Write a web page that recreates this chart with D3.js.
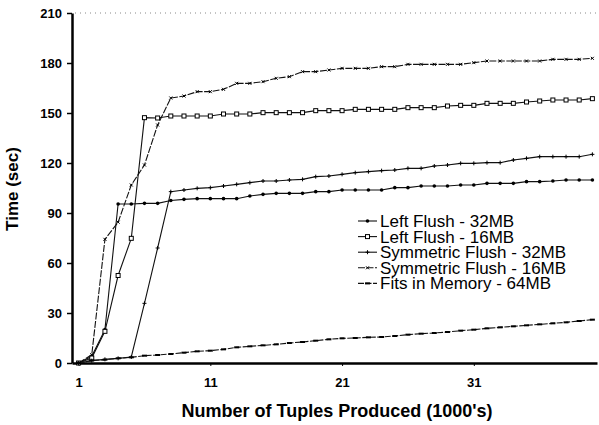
<!DOCTYPE html>
<html>
<head>
<meta charset="utf-8">
<script src="https://cdn.jsdelivr.net/npm/d3@7"></script>
<style>
  body { margin: 0; background: #fff; }
  text { font-family: "Liberation Sans", Arial, Helvetica, sans-serif; }
</style>
</head>
<body>
<div id="chart"></div>
<script>
// data, x = 1..40 (1000's of tuples)
var xs = d3.range(1, 41);

var leftFlush32 = [0, 4, 20, 95.4, 95.4, 95.8, 95.8, 97.5, 98.2, 98.6,
  98.6, 98.6, 98.6, 100.2, 101.2, 101.8, 101.8, 101.8, 102.8, 102.8,
  103.8, 103.8, 103.8, 103.8, 105.2, 105.2, 106.2, 106.2, 106.2, 106.8,
  106.8, 107.8, 107.8, 107.8, 108.8, 108.8, 109.2, 109.8, 109.8, 109.8];

var leftFlush16 = [0, 3, 19, 52.5, 74.8, 147.2, 147, 148.2, 148.2, 148.2,
  148.2, 149.4, 149.4, 149.4, 150.2, 150.2, 150.2, 150.2, 151.4, 151.4,
  151.4, 152.2, 152.2, 152.2, 152.2, 153.2, 153.2, 153.2, 154.2, 154.6,
  154.6, 155.8, 155.8, 155.8, 156.6, 157.2, 157.8, 157.8, 157.8, 158.6];

var symFlush32 = [0, 1.4, 2.2, 2.8, 3.6, 35.8, 69, 102.8, 103.8, 104.8,
  105.2, 106.2, 107.2, 108.2, 109.2, 109.2, 109.8, 110.2, 111.8, 112.2,
  113.2, 114.2, 114.8, 115.4, 115.8, 116.8, 116.8, 118.2, 118.8, 119.8,
  119.8, 120.2, 120.2, 121.8, 122.8, 123.8, 123.8, 123.8, 123.8, 125.2];

var symFlush16 = [0, 5, 74.2, 84.5, 106.8, 118.8, 142.8, 159, 160.2, 162.8,
  162.8, 164.2, 167.8, 167.8, 168.8, 170.8, 171.8, 174.8, 174.8, 175.8,
  176.8, 176.8, 176.8, 177.8, 177.8, 179.2, 179.2, 179.2, 179.2, 179.2,
  180.2, 181.2, 181.2, 181.2, 181.2, 181.2, 182.2, 182.2, 182.2, 182.8];

var fitsMem64 = [0, 1.5, 2, 2.8, 3.4, 4.4, 4.8, 5.4, 6.2, 7,
  7.4, 8.2, 9.4, 10, 10.6, 11.2, 12, 12.6, 13.4, 14.2,
  14.8, 15, 15.4, 15.6, 16.2, 17, 17.6, 18, 18.6, 19.4,
  20, 20.8, 21.4, 22, 22.6, 23.2, 23.8, 24.4, 25.2, 26];

var seriesNames = ["Left Flush - 32MB", "Left Flush - 16MB", "Symmetric Flush - 32MB",
  "Symmetric Flush - 16MB", "Fits in Memory - 64MB"];
var seriesValues = [leftFlush32, leftFlush16, symFlush32, symFlush16, fitsMem64];
var markerKinds = ["dot", "square", "plus", "star", "dash"];
var dashKinds = [null, null, null, "7,1.5", "6,1.5"];

var yTicks = [0, 30, 60, 90, 120, 150, 180, 210];
var xTicks = [1, 11, 21, 31];

// set the dimensions and margins of the graph
var margin = {top: 13, right: 2, bottom: 62, left: 72},
    width = 599 - margin.left - margin.right,
    height = 425 - margin.top - margin.bottom;

var svg = d3.select("#chart")
  .append("svg")
    .attr("width", width + margin.left + margin.right)
    .attr("height", height + margin.top + margin.bottom)
  .append("g")
    .attr("transform", "translate(" + margin.left + "," + margin.top + ")");

var x = d3.scaleLinear().domain([0.5, 40.35]).range([0, width]);
var y = d3.scaleLinear().domain([0, 210]).range([height, 0]);

// faint dotted line at the top
svg.append("line")
  .attr("x1", 3).attr("x2", width)
  .attr("y1", y(210)).attr("y2", y(210))
  .attr("stroke", "#888")
  .attr("stroke-width", 1)
  .attr("stroke-dasharray", "1,4");

// Y axis
var yAxis = svg.append("g")
  .call(d3.axisLeft(y).tickValues(yTicks).tickSize(5).tickPadding(5).tickSizeOuter(0));
yAxis.select(".domain").attr("stroke-width", 2.5).attr("stroke", "#000");
yAxis.selectAll(".tick line").attr("stroke-width", 1.5);
yAxis.selectAll("text")
  .style("font-size", "13px").style("font-weight", "bold").attr("fill", "#000");

// X axis
var xAxis = svg.append("g")
  .attr("transform", "translate(0," + height + ")")
  .call(d3.axisBottom(x).tickValues(xTicks).tickSize(3).tickPadding(12).tickSizeOuter(0));
xAxis.select(".domain").attr("stroke-width", 2.5).attr("stroke", "#000");
xAxis.selectAll(".tick line").attr("stroke-width", 1);
xAxis.selectAll("text")
  .style("font-size", "13px").style("font-weight", "bold").attr("fill", "#000");

// axis titles
svg.append("text")
  .attr("transform", "translate(" + (18 - margin.left) + "," + (189 - margin.top) + ") rotate(-90)")
  .attr("text-anchor", "middle")
  .style("font-size", "17px").style("font-weight", "bold")
  .text("Time (sec)");

svg.append("text")
  .attr("x", 337 - margin.left)
  .attr("y", 417 - margin.top)
  .attr("text-anchor", "middle")
  .style("font-size", "18px").style("font-weight", "bold")
  .text("Number of Tuples Produced (1000's)");

// marker drawing
function drawMarker(g, kind, cx, cy) {
  if (kind == "dot") {
    g.append("circle").attr("cx", cx).attr("cy", cy).attr("r", 1.8).attr("fill", "#000");
  } else if (kind == "square") {
    g.append("rect").attr("x", cx - 2).attr("y", cy - 2).attr("width", 4).attr("height", 4)
      .attr("fill", "#fff").attr("stroke", "#000").attr("stroke-width", 1);
  } else if (kind == "plus") {
    g.append("path").attr("d", "M" + (cx - 2) + "," + cy + "h4M" + cx + "," + (cy - 2) + "v4")
      .attr("stroke", "#000").attr("stroke-width", 1);
  } else if (kind == "star") {
    g.append("path").attr("d", "M" + (cx - 1.5) + "," + (cy - 1.5) + "l3,3M" + (cx + 1.5) + "," + (cy - 1.5) + "l-3,3")
      .attr("stroke", "#000").attr("stroke-width", 1);
  } else {
    g.append("path").attr("d", "M" + (cx - 2.5) + "," + cy + "h5")
      .attr("stroke", "#000").attr("stroke-width", 2);
  }
}

var line = d3.line()
  .x(function (d) { return x(d[0]); })
  .y(function (d) { return y(d[1]); });

seriesValues.forEach(function (vals, i) {
  var pts = xs.map(function (xv, j) { return [xv, vals[j]]; });
  var g = svg.append("g");
  g.append("path")
    .datum(pts)
    .attr("fill", "none")
    .attr("stroke", "#111")
    .attr("stroke-width", 1.1)
    .attr("stroke-dasharray", dashKinds[i])
    .attr("d", line);
  pts.forEach(function (p) { drawMarker(g, markerKinds[i], x(p[0]), y(p[1])); });
});

// legend
var legend = svg.append("g")
  .attr("transform", "translate(" + (358 - margin.left) + "," + (221 - margin.top) + ")");
seriesNames.forEach(function (name, i) {
  var row = legend.append("g").attr("transform", "translate(0," + (i * 15.6) + ")");
  row.append("line")
    .attr("x1", 0).attr("x2", 19).attr("y1", 0).attr("y2", 0)
    .attr("stroke", "#111").attr("stroke-width", 1.1)
    .attr("stroke-dasharray", dashKinds[i]);
  drawMarker(row, markerKinds[i], 9.5, 0);
  row.append("text")
    .attr("x", 22).attr("y", 6)
    .style("font-size", "17px")
    .text(name);
});
</script>
</body>
</html>
